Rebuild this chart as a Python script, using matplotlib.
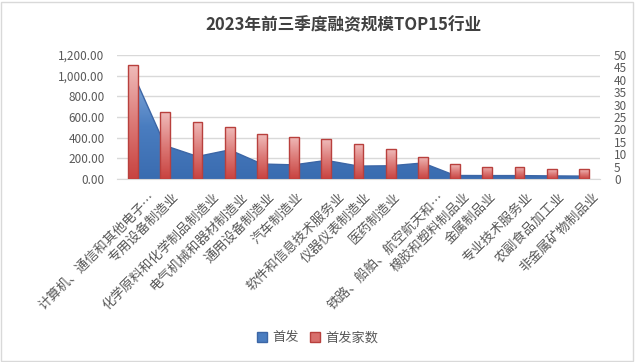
import matplotlib
matplotlib.use("Agg")
import matplotlib.pyplot as plt
import numpy as np
from matplotlib.colors import LinearSegmentedColormap
from matplotlib.patches import Patch, Rectangle

plt.rcParams['font.family'] = ['Noto Sans CJK SC', 'DejaVu Sans']

# ---- data ----
categories = [
    "计算机、通信和其他电子…", "专用设备制造业", "化学原料和化学制品制造业",
    "电气机械和器材制造业", "通用设备制造业", "汽车制造业",
    "软件和信息技术服务业", "仪器仪表制造业", "医药制造业",
    "铁路、船舶、航空航天和…", "橡胶和塑料制品业", "金属制品业",
    "专业技术服务业", "农副食品加工业", "非金属矿物制品业",
]
ipo_amount = [1020, 322, 218, 282, 145, 137, 180, 125, 128, 155, 34, 33, 33, 30, 28]
ipo_count = [46, 27, 23, 21, 18, 17, 16, 14, 12, 9, 6, 5, 5, 4, 4]
left_ticks = [0, 200, 400, 600, 800, 1000, 1200]
right_ticks = [0, 5, 10, 15, 20, 25, 30, 35, 40, 45, 50]
title = "2023年前三季度融资规模TOP15行业"
series_names = ["首发", "首发家数"]

W, H = 635, 362
fig = plt.figure(figsize=(W / 100, H / 100), dpi=100)
fig.patch.set_facecolor('white')
fig.add_artist(Rectangle((0.002, 0.003), 0.995, 0.992, transform=fig.transFigure,
                         fill=False, edgecolor='#d9d9d9', linewidth=1))

left, right, top, bottom = 117, 600, 55, 179
ax = fig.add_axes([left / W, 1 - bottom / H, (right - left) / W, (bottom - top) / H])
ax2 = ax.twinx()

x = np.arange(len(categories))
grey = '#595959'

# area series with gradient
poly = ax.fill_between(x, ipo_amount, 0, facecolor='none', edgecolor='none', zorder=2)
blue_cmap = LinearSegmentedColormap.from_list('b', ['#3a6cb0', '#4a7dc0', '#86acdc'])
grad = np.linspace(0, 1, 256).reshape(-1, 1)
im = ax.imshow(grad, extent=(-0.5, len(x) - 0.5, 0, max(ipo_amount)), aspect='auto',
               cmap=blue_cmap, origin='lower', zorder=2)
im.set_clip_path(poly.get_paths()[0], transform=ax.transData)
ax.plot(x, ipo_amount, color='#3c66a6', linewidth=1, zorder=3)

ax.set_xlim(-0.5, len(x) - 0.5)
ax.set_ylim(0, 1200)
ax.set_yticks(left_ticks)
ax.set_yticklabels([f"{v:,.2f}" for v in left_ticks])
ax.yaxis.grid(True, color='#d9d9d9', linewidth=1)
ax.set_axisbelow(True)
for s in ['top', 'right', 'left']:
    ax.spines[s].set_visible(False)
ax.spines['bottom'].set_color('#d9d9d9')
ax.tick_params(axis='y', length=0, pad=9, labelsize=8.5, labelcolor=grey)
ax.tick_params(axis='x', length=0)
ax.set_xticks(x)
ax.set_xticklabels([])

# bars with gradient
bars = ax2.bar(x, ipo_count, width=0.31, facecolor='none', edgecolor='#b8403d',
               linewidth=1, zorder=4)
red_cmap = LinearSegmentedColormap.from_list('r', ['#c8423f', '#dc7a77', '#f0bcbb'])
for b in bars:
    x0, y0, w, h = b.get_x(), b.get_y(), b.get_width(), b.get_height()
    bim = ax2.imshow(grad, extent=(x0, x0 + w, y0, y0 + h), aspect='auto',
                     cmap=red_cmap, origin='lower', zorder=3)
    bim.set_clip_path(b)
ax2.set_xlim(-0.5, len(x) - 0.5)
ax2.set_ylim(0, 50)
ax2.set_yticks(right_ticks)
ax2.set_yticklabels([str(v) for v in right_ticks])
for s in ['top', 'right', 'left', 'bottom']:
    ax2.spines[s].set_visible(False)
ax2.tick_params(axis='y', length=0, pad=10, labelsize=8.5, labelcolor=grey)

# rotated category labels
for i, lab in enumerate(categories):
    off = 1.85 * len(lab) - 2
    ax.annotate(lab, xy=(i, 0), xycoords='data',
                xytext=(off * 0.72, -16 * 0.72), textcoords='offset points',
                rotation=45, rotation_mode='anchor', ha='right', va='center',
                fontsize=9.5, color=grey)

fig.text(343 / W, 1 - 25 / H, title, ha='center', va='center', fontsize=12,
         fontweight='bold', color='#404040')

handles = [Patch(facecolor='#4a7dc0', edgecolor='#3c66a6'),
           Patch(facecolor='#d86f6c', edgecolor='#b8403d')]
fig.legend(handles, series_names, loc='center', bbox_to_anchor=(0.5, 1 - 338 / H),
           ncol=2, frameon=False, fontsize=9.5, labelcolor=grey,
           handlelength=0.8, handleheight=0.8, handletextpad=0.4, columnspacing=0.8)

fig.savefig('out.png', dpi=100)
